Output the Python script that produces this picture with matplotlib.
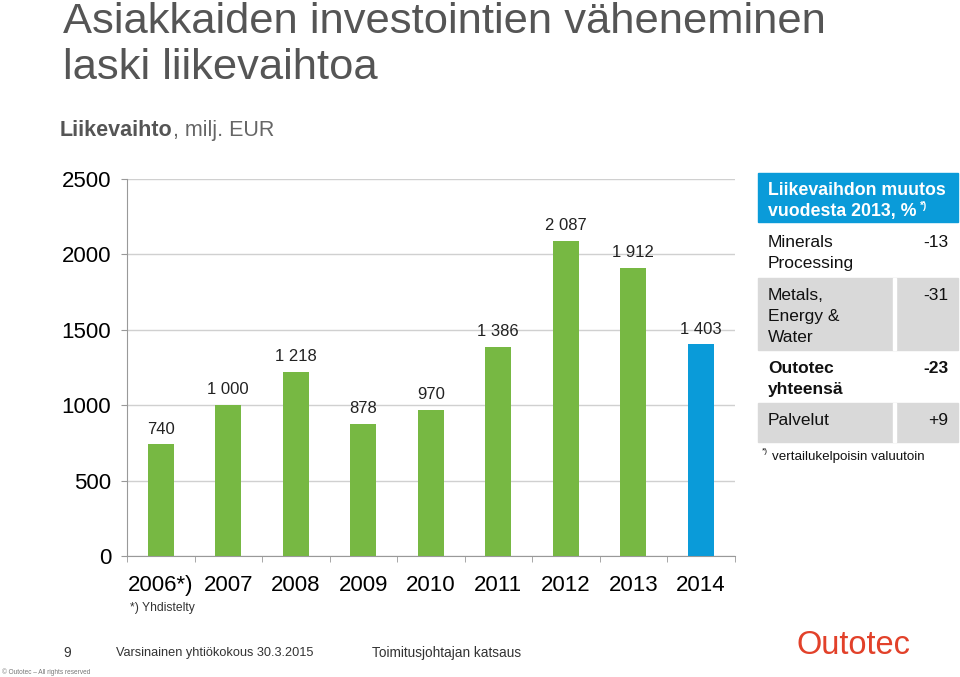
import matplotlib
matplotlib.use("Agg")
import matplotlib.pyplot as plt
from matplotlib.patches import Rectangle

plt.rcParams['font.family'] = ['Liberation Sans', 'DejaVu Sans']

years = ["2006*)", "2007", "2008", "2009", "2010", "2011", "2012", "2013", "2014"]
revenue = [740, 1000, 1218, 878, 970, 1386, 2087, 1912, 1403]
value_labels = ["740", "1 000", "1 218", "878", "970", "1 386", "2 087", "1 912", "1 403"]
bar_colors = ["#77B843"] * 8 + ["#0A9BD9"]
yticks = [0, 500, 1000, 1500, 2000, 2500]

table_rows = [(["Minerals", "Processing"], "-13"),
              (["Metals,", "Energy &", "Water"], "-31"),
              (["Outotec", "yhteensä"], "-23"),
              (["Palvelut"], "+9")]

W, H = 960, 677
fig = plt.figure(figsize=(9.6, 6.77), dpi=100)

def fx(x): return x / W
def fy(y): return 1 - y / H

ax = fig.add_axes([fx(127), fy(556), fx(734.5) - fx(127), fy(179) - fy(556)])
x = list(range(len(years)))
ax.bar(x, revenue, width=0.39, color=bar_colors, zorder=3)
for xi, v, lab in zip(x, revenue, value_labels):
    ax.text(xi, v + 52, lab, ha='center', va='bottom', fontsize=12, color='#222222', zorder=4)
ax.set_xlim(-0.5, len(years) - 0.5)
ax.set_ylim(0, 2500)
ax.set_yticks(yticks)
ax.set_yticklabels([str(t) for t in yticks], fontsize=16)
ax.set_xticks(x)
ax.set_xticklabels(years, fontsize=16)
ax.set_xticks([i - 0.5 for i in range(len(years) + 1)], minor=True)
ax.tick_params(axis='x', which='major', length=0, pad=14)
ax.tick_params(axis='x', which='minor', length=4, color='#999999')
ax.tick_params(axis='y', length=4.5, color='#999999', pad=7)
ax.grid(axis='y', color='#D0D0D0', linewidth=1, zorder=0)
for s in ['top', 'right']:
    ax.spines[s].set_visible(False)
ax.spines['left'].set_color('#999999')
ax.spines['bottom'].set_color('#999999')

# Title & subtitle
fig.text(fx(63), fy(33), "Asiakkaiden investointien väheneminen", ha='left', va='baseline',
         fontsize=31.3, color='#555555')
fig.text(fx(63), fy(79), "laski liikevaihtoa", ha='left', va='baseline',
         fontsize=31.3, color='#555555')
t1 = fig.text(fx(60), fy(136), "Liikevaihto", ha='left', va='baseline', fontsize=15.5,
              color='#555555', fontweight='bold')
fig.canvas.draw()
bb = t1.get_window_extent()
fig.text(bb.x1 / W, fy(136), ", milj. EUR", ha='left', va='baseline', fontsize=15.5, color='#666666')

fig.text(fx(130), fy(608), "*) Yhdistelty", ha='left', va='center', fontsize=8.7, color='#333333')

# Table
tab_l, tab_r = 758, 958
fig.patches.append(Rectangle((fx(tab_l), fy(222)), fx(tab_r) - fx(tab_l), fy(173) - fy(222),
                             transform=fig.transFigure, color='#0A9BD9', zorder=0))
fig.text(fx(768), fy(195), "Liikevaihdon muutos", ha='left', va='baseline',
         fontsize=12.8, color='white', fontweight='bold')
fig.text(fx(768), fy(216), "vuodesta 2013, %", ha='left', va='baseline',
         fontsize=12.8, color='white', fontweight='bold')
fig.text(fx(920), fy(209), "*)", ha='left', va='baseline', fontsize=7, color='white', fontweight='bold')
row_bounds = [(222, 278), (278, 350), (350, 403), (403, 442)]
row_fill = [None, '#D9D9D9', None, '#D9D9D9']
row_base = [247, 300, 373, 425]
for i, ((lines, val), (y0, y1), fc, b) in enumerate(zip(table_rows, row_bounds, row_fill, row_base)):
    if fc:
        fig.patches.append(Rectangle((fx(tab_l), fy(y1)), fx(tab_r) - fx(tab_l), fy(y0) - fy(y1),
                                     transform=fig.transFigure, color=fc, zorder=0))
        fig.patches.append(Rectangle((fx(893), fy(y1)), fx(896) - fx(893), fy(y0) - fy(y1),
                                     transform=fig.transFigure, color='white', zorder=1))
    bold = 'bold' if i == 2 else 'normal'
    for k, ln in enumerate(lines):
        fig.text(fx(768), fy(b + 21 * k), ln, ha='left', va='baseline', fontsize=12.5,
                 color='#111111', fontweight=bold)
    fig.text(fx(948), fy(b), val, ha='right', va='baseline', fontsize=12.5, color='#111111',
             fontweight=bold)
fig.text(fx(762), fy(453), "*)", ha='left', va='baseline', fontsize=6, color='#111111')
fig.text(fx(772), fy(460), "vertailukelpoisin valuutoin", ha='left', va='baseline', fontsize=9.6, color='#111111')

# Footer
fig.text(fx(63), fy(653), "9", ha='left', va='center', fontsize=10, color='#333333')
fig.text(fx(116), fy(653), "Varsinainen yhtiökokous 30.3.2015", ha='left', va='center', fontsize=9.2, color='#333333')
fig.text(fx(372), fy(653), "Toimitusjohtajan katsaus", ha='left', va='center', fontsize=9.8, color='#333333')
fig.text(fx(2), fy(672), "© Outotec – All rights reserved", ha='left', va='center', fontsize=4.7, color='#777777')
fig.text(fx(796), fy(645), "Outotec", ha='left', va='center', fontsize=23.5, color='#E2412A')

fig.savefig("out.png", dpi=100)
